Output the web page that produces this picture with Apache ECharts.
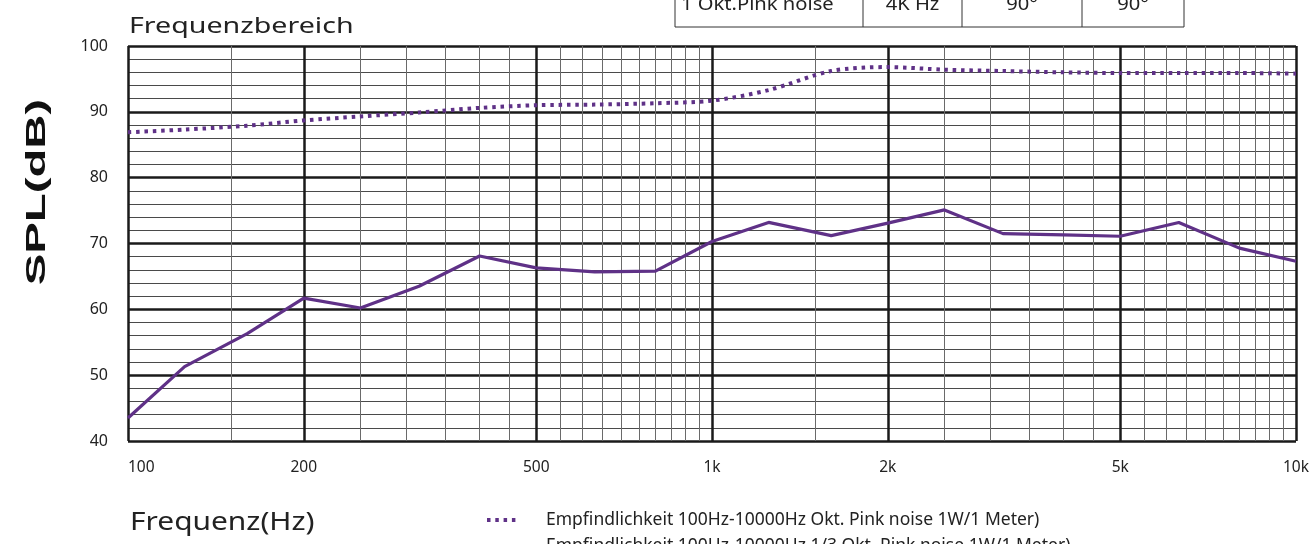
<!DOCTYPE html>
<html>
<head>
<meta charset="utf-8">
<title>Frequenzbereich</title>
<script src="https://cdn.jsdelivr.net/npm/echarts@6/dist/echarts.min.js"></script>
<style>
  html, body { margin: 0; padding: 0; background: #fff; }
  #chart { width: 1316px; height: 544px; }
</style>
</head>
<body>
<div id="chart"></div>
<script>
// 1/3 Oktav-Mittenfrequenzen
var freqs = [100, 125, 160, 200, 250, 315, 400, 500, 630, 800, 1000, 1250, 1600, 2000, 2500, 3150, 4000, 5000, 6300, 8000, 10000];
// Empfindlichkeit Okt. (gepunktet)
var oktValues = [86.9, 87.3, 87.9, 88.7, 89.3, 89.9, 90.6, 91.0, 91.1, 91.3, 91.7, 93.3, 96.2, 96.8, 96.4, 96.2, 96.0, 95.9, 95.9, 95.9, 95.8];
// Empfindlichkeit 1/3 Okt. (durchgezogen)
var terzValues = [43.5, 51.3, 56.3, 61.7, 60.2, 63.5, 68.1, 66.3, 65.7, 65.8, 70.3, 73.2, 71.2, 73.1, 75.1, 71.5, 71.3, 71.1, 73.2, 69.3, 67.3];

var labelFreqs = [100, 200, 500, 1000, 2000, 5000, 10000];
var labelTexts = ['100', '200', '500', '1k', '2k', '5k', '10k'];
// feine Rasterlinien: 1, 1.5, 2, 2.5 ... 9.5 je Dekade
var minorFreqs = [150, 250, 300, 350, 400, 450, 550, 600, 650, 700, 750, 800, 850, 900, 950,
  1500, 2500, 3000, 3500, 4000, 4500, 5500, 6000, 6500, 7000, 7500, 8000, 8500, 9000, 9500];

var oktName = 'Empfindlichkeit 100Hz-10000Hz Okt. Pink noise 1W/1 Meter)';
var terzName = 'Empfindlichkeit 100Hz-10000Hz 1/3 Okt. Pink noise 1W/1 Meter)';

var tableCells = ['1 Okt.Pink noise', '4K Hz', '90°', '90°'];
var tableCols = [675, 863, 962, 1082, 1184];

var purple = '#5f3187';
var font = '"Noto Sans", "Open Sans", sans-serif';

function pairs(xs, ys) {
  return xs.map(function (x, i) { return [x, ys[i]]; });
}

var chart = echarts.init(document.getElementById('chart'));

var tableEls = [];
for (var i = 0; i < tableCols.length; i++) {
  tableEls.push({
    type: 'line',
    shape: { x1: tableCols[i], y1: -5, x2: tableCols[i], y2: 27 },
    style: { stroke: '#333', lineWidth: 1 }
  });
}
tableEls.push({
  type: 'line',
  shape: { x1: tableCols[0], y1: 27, x2: tableCols[tableCols.length - 1], y2: 27 },
  style: { stroke: '#333', lineWidth: 1 }
});
tableCells.forEach(function (t, i) {
  var left = i === 0;
  tableEls.push({
    type: 'text',
    x: left ? tableCols[0] + 6 : (tableCols[i] + tableCols[i + 1]) / 2,
    y: 5,
    scaleX: 1.12,
    style: {
      text: t,
      font: '18px ' + font,
      fill: '#222',
      textAlign: left ? 'left' : 'center',
      textVerticalAlign: 'middle'
    }
  });
});

var option = {
  animation: false,
  backgroundColor: '#fff',
  grid: { left: 128, top: 46, width: 1168, height: 395, containLabel: false },
  legend: {
    orient: 'vertical',
    left: 480,
    top: 506,
    height: 90,
    itemWidth: 32,
    itemHeight: 14,
    itemGap: 8,
    itemStyle: { opacity: 0 },
    lineStyle: { width: 4 },
    textStyle: { fontFamily: font, fontSize: 17.5, color: '#222', padding: [0, 0, 0, 22] },
    data: [oktName, terzName]
  },
  xAxis: [
    {
      type: 'log',
      logBase: 10,
      min: 100,
      max: 10000,
      axisLine: { show: false },
      axisTick: { show: false, customValues: labelFreqs },
      axisLabel: {
        customValues: labelFreqs,
        alignMinLabel: 'left',
        margin: 19,
        fontFamily: font,
        fontSize: 15.5,
        color: '#222',
        formatter: function (v) {
          var idx = labelFreqs.indexOf(Math.round(v));
          return idx >= 0 ? labelTexts[idx] : '';
        }
      },
      splitLine: { show: true, lineStyle: { color: '#1a1a1a', width: 2.5 } }
    },
    {
      type: 'log',
      logBase: 10,
      min: 100,
      max: 10000,
      position: 'bottom',
      axisLine: { show: false },
      axisTick: { show: false, customValues: minorFreqs },
      axisLabel: { show: false },
      splitLine: { show: true, lineStyle: { color: '#6a6a6a', width: 1 } }
    }
  ],
  yAxis: {
    type: 'value',
    min: 40,
    max: 100,
    interval: 10,
    axisLine: { show: false },
    axisTick: { show: false },
    axisLabel: { margin: 20, fontFamily: font, fontSize: 16, color: '#222' },
    splitLine: { show: true, lineStyle: { color: '#1a1a1a', width: 2.5 } },
    minorTick: { show: false, splitNumber: 5 },
    minorSplitLine: { show: true, lineStyle: { color: '#4a4a4a', width: 1 } }
  },
  series: [
    {
      name: oktName,
      type: 'line',
      xAxisIndex: 0,
      data: pairs(freqs, oktValues),
      smooth: 0.3,
      showSymbol: false,
      symbol: 'none',
      lineStyle: { color: purple, width: 4, type: [3.5, 4.8] },
      itemStyle: { color: purple },
      z: 5
    },
    {
      name: terzName,
      type: 'line',
      xAxisIndex: 0,
      data: pairs(freqs, terzValues),
      showSymbol: false,
      symbol: 'none',
      lineStyle: { color: purple, width: 3.2 },
      itemStyle: { color: purple },
      z: 5
    }
  ],
  graphic: [
    {
      type: 'text',
      x: 129,
      y: 27,
      scaleX: 1.3,
      style: { text: 'Frequenzbereich', font: '22px ' + font, fill: '#222', textVerticalAlign: 'middle' }
    },
    {
      type: 'text',
      x: 38,
      y: 192,
      rotation: Math.PI / 2,
      scaleX: 1.75,
      style: {
        text: 'SPL(dB)',
        font: 'bold 27px "Liberation Sans", Arial, sans-serif',
        fill: '#111',
        textAlign: 'center',
        textVerticalAlign: 'middle'
      }
    },
    {
      type: 'text',
      x: 130,
      y: 523,
      scaleX: 1.15,
      style: { text: 'Frequenz(Hz)', font: '26px ' + font, fill: '#222', textVerticalAlign: 'middle' }
    },
    { type: 'group', children: tableEls }
  ]
};

chart.setOption(option);
</script>
</body>
</html>
